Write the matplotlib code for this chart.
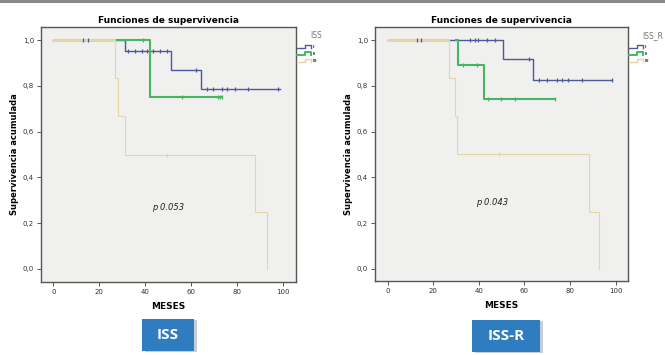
import numpy as np
import matplotlib
matplotlib.use("Agg")
import matplotlib.pyplot as plt
from matplotlib.lines import Line2D
from matplotlib.patches import Rectangle

# ---- Kaplan-Meier data (months, cumulative survival) ----
# ISS staging
iss_I_t = [0, 31, 51, 64, 98.5]
iss_I_s = [1.0, 0.95, 0.87, 0.785, 0.785]
iss_I_cens = [13, 15, 32.5, 35.5, 38.5, 40.7, 43.4, 46.4, 49.4, 62, 66.7, 69.6, 73.2, 75.4, 79, 84.8, 97.8]

iss_II_t = [27.5, 42, 73.2]
iss_II_s = [1.0, 0.75, 0.75]
iss_II_cens = [39, 55.8, 71.6, 72.4, 73.2]

iss_III_t = [0, 26.8, 28.3, 31, 87.7, 92.8, 92.8]
iss_III_s = [1.0, 0.833, 0.667, 0.5, 0.25, 0.0, 0.0]
iss_III_cens = [49.3]

# ISS-R staging
issr_I_t = [0, 50.7, 63.9, 98.5]
issr_I_s = [1.0, 0.917, 0.825, 0.825]
issr_I_cens = [13, 14.5, 36.1, 38.3, 39.8, 43.4, 47.1, 62, 66.5, 70, 74.1, 76.3, 78.9, 85.4, 98.2]

issr_II_t = [30, 31, 42.2, 73.5]
issr_II_s = [1.0, 0.889, 0.742, 0.742]
issr_II_cens = [33, 39, 44, 49.9, 55.8, 73.2]

issr_III_t = [0, 26.9, 29.5, 30.5, 88.3, 92.8, 92.8]
issr_III_s = [1.0, 0.833, 0.667, 0.5, 0.25, 0.0, 0.0]
issr_III_cens = [48.7]

stage_labels = ["I", "II", "III"]
x_ticks = [0, 20, 40, 60, 80, 100]
y_ticks = [0.0, 0.2, 0.4, 0.6, 0.8, 1.0]
y_tick_labels = ["0,0", "0,2", "0,4", "0,6", "0,8", "1,0"]
p_values = ["p 0.053", "p 0.043"]
legend_titles = ["ISS", "ISS_R"]
badge_texts = ["ISS", "ISS-R"]

colors = ["#4a5a9c", "#46b564", "#e6d6a6"]
widths = [1.0, 1.5, 0.8]

W, H = 665, 355
fig = plt.figure(figsize=(W / 100, H / 100), dpi=100)
fig.patch.set_facecolor("white")


def px_axes(x0, y0, x1, y1):
    return fig.add_axes([x0 / W, 1 - y1 / H, (x1 - x0) / W, (y1 - y0) / H])


def surv_at(t, ts, ss):
    idx = np.searchsorted(ts, t, side="right") - 1
    idx = max(idx, 0)
    return ss[idx]


def draw_panel(ax, curves, ptext, ptxt_xy, xlim, ylim):
    ax.set_facecolor("#f0f0ee")
    for (ts, ss, cens), c, lw in zip(curves, colors, widths):
        ax.step(ts, ss, where="post", color=c, lw=lw, zorder=3)
        cy = [surv_at(t, np.array(ts), ss) for t in cens]
        ax.plot(cens, cy, ls="none", marker="|", ms=3.5, mew=0.9, color=c, zorder=4)
    ax.set_xlim(*xlim)
    ax.set_ylim(*ylim)
    ax.set_xticks(x_ticks)
    ax.set_xticklabels([str(v) for v in x_ticks], fontsize=5, color="#333333")
    ax.set_yticks(y_ticks)
    ax.set_yticklabels(y_tick_labels, fontsize=5, color="#333333")
    ax.tick_params(length=3, width=0.7, color="#555555", pad=2)
    for s in ax.spines.values():
        s.set_color("#5a5550")
        s.set_linewidth(1.0)
    ax.set_title("Funciones de supervivencia", fontsize=6.5, fontweight="bold", pad=3)
    ax.set_xlabel("MESES", fontsize=6.5, fontweight="bold", labelpad=5)
    ax.set_ylabel("Supervivencia acumulada", fontsize=6, fontweight="bold", labelpad=3)
    ax.text(ptxt_xy[0], ptxt_xy[1], ptext, fontsize=6, style="italic",
            ha="center", va="center", color="#222222")


ax1 = px_axes(41, 27, 296, 282)
draw_panel(ax1,
           [(iss_I_t, iss_I_s, iss_I_cens),
            (iss_II_t, iss_II_s, iss_II_cens),
            (iss_III_t, iss_III_s, iss_III_cens)],
           p_values[0], (50, 0.27), (-5.35, 105.5), (-0.057, 1.057))

ax2 = px_axes(375, 27, 628, 281)
draw_panel(ax2,
           [(issr_I_t, issr_I_s, issr_I_cens),
            (issr_II_t, issr_II_s, issr_II_cens),
            (issr_III_t, issr_III_s, issr_III_cens)],
           p_values[1], (46, 0.29), (-5.57, 105.4), (-0.053, 1.057))


def fx(x):
    return x / W


def fy(y):
    return 1 - y / H


# legends drawn outside the plotting area
def draw_legend(x0, title):
    fig.text(fx(x0 + 13), fy(36), title, fontsize=5.5, color="#777777",
             ha="left", va="center")
    for i, (c, lab) in enumerate(zip(colors, stage_labels)):
        yb = 48 + i * 7
        xs = [x0, x0 + 8, x0 + 8, x0 + 14, x0 + 14]
        ys = [yb, yb, yb - 3, yb - 3, yb]
        fig.add_artist(Line2D([fx(v) for v in xs], [fy(v) for v in ys],
                              color=c, lw=1.0 if i != 1 else 1.4))
        fig.text(fx(x0 + 16), fy(yb - 1), lab, fontsize=3, color="#333333",
                 ha="left", va="center", fontweight="bold")


draw_legend(297, legend_titles[0])
draw_legend(629, legend_titles[1])

# top rule
fig.add_artist(Rectangle((0, fy(2.5)), 1, 2.5 / H, transform=fig.transFigure,
                         color="#8a8a8a", lw=0))


# blue labels under each chart
def badge(x0, y0, x1, y1, text):
    fig.add_artist(Rectangle((fx(x0 + 3), fy(y1 + 1)), (x1 - x0) / W, (y1 - y0) / H,
                             transform=fig.transFigure, color="#c8ccd4", lw=0))
    fig.add_artist(Rectangle((fx(x0), fy(y1)), (x1 - x0) / W, (y1 - y0) / H,
                             transform=fig.transFigure, color="#2f7cc0", lw=0))
    fig.text(fx((x0 + x1) / 2), fy((y0 + y1) / 2), text, fontsize=11,
             fontweight="bold", color="white", ha="center", va="center",
             family="Open Sans")


badge(142, 319, 194, 351, badge_texts[0])
badge(472, 320, 540, 352, badge_texts[1])

fig.savefig("out.png", dpi=100, facecolor="white")
